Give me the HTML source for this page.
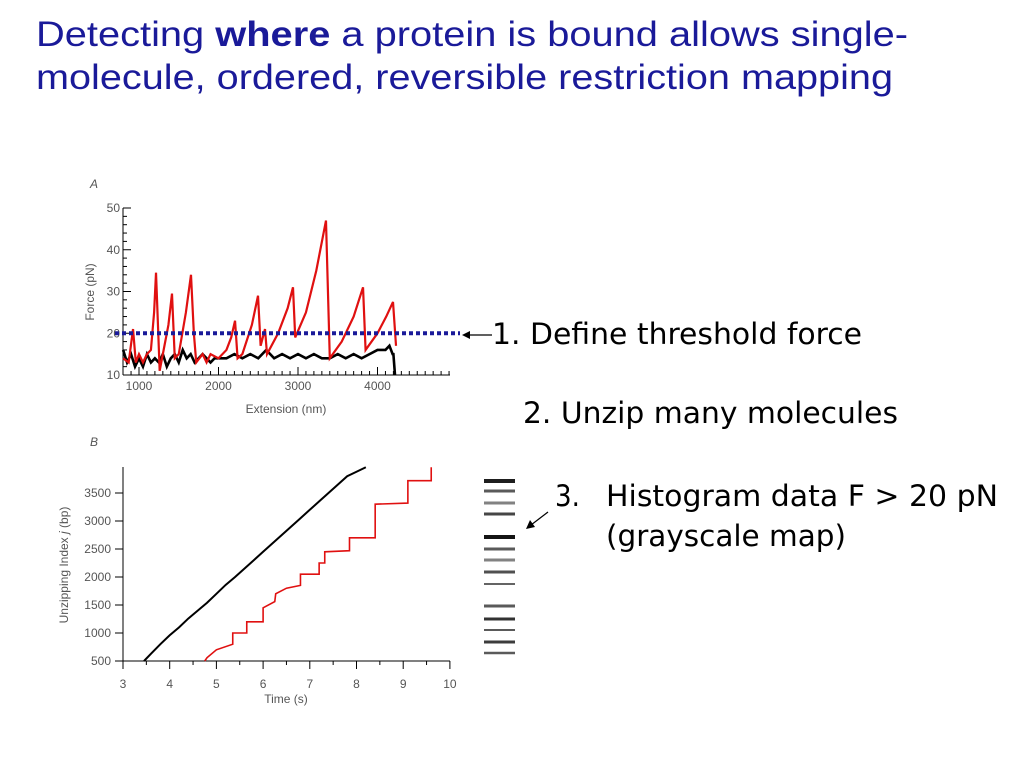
<!DOCTYPE html>
<html><head><meta charset="utf-8"><style>
body{margin:0;background:#fff;width:1024px;height:768px;overflow:hidden}
svg{display:block}
.ax{font-family:"Liberation Sans",sans-serif;font-size:12px;fill:#555}
.big{font-family:"Liberation Sans Narrow","DejaVu Sans Condensed","DejaVu Sans",sans-serif;font-size:29px;fill:#000}
</style></head><body>
<svg id="s" width="1024" height="768" xmlns="http://www.w3.org/2000/svg">
<g font-family="Liberation Sans, sans-serif" font-size="35" fill="#1a1a99">
<text x="36" y="46" textLength="872" lengthAdjust="spacingAndGlyphs">Detecting <tspan font-weight="bold">where</tspan> a protein is bound allows single-</text>
<text x="36" y="89" textLength="857" lengthAdjust="spacingAndGlyphs">molecule, ordered, reversible restriction mapping</text>
</g>
<g id="chartA"></g>
<g id="chartB"></g>
<g id="map"></g>
<g>
<line x1="492" y1="335" x2="468" y2="335" stroke="#000" stroke-width="1.2"/>
<polygon points="462,335 470,331 470,339" fill="#000"/>
<text class="big" x="492" y="344" textLength="370" lengthAdjust="spacingAndGlyphs">1. Define threshold force</text>
<text class="big" x="523" y="423" textLength="375" lengthAdjust="spacingAndGlyphs">2. Unzip many molecules</text>
<text class="big" x="555" y="506">3.</text>
<text class="big" x="606" y="506" textLength="392" lengthAdjust="spacingAndGlyphs">Histogram data F &gt; 20 pN</text>
<text class="big" x="606" y="546" textLength="240" lengthAdjust="spacingAndGlyphs">(grayscale map)</text>
<line x1="548" y1="512" x2="531" y2="525" stroke="#000" stroke-width="1.2"/>
<polygon points="526,529 530,520 535,527" fill="#000"/>
</g>
</svg>
<script>
// Chart A data
const aRedX=[800,870,925,960,1000,1050,1100,1150,1190,1214,1260,1300,1370,1415,1450,1500,1590,1654,1690,1720,1800,1850,1900,2000,2100,2160,2208,2240,2300,2420,2497,2530,2585,2610,2750,2870,2937,2965,3100,3230,3352,3400,3550,3700,3818,3850,4000,4110,4195,4233];
const aRedF=[14,13,21,13,15,13,15,16,25,34.5,11,15,22,29.5,14,15,25,34,20,13,15,13,15,14,16,19,23,14,15,22,29,17,21,15,20,26,31,19,25,35,47,14,18,24,31,16,20,24,27.5,17];
const aBlkX=[800,850,900,950,1000,1050,1100,1150,1200,1250,1300,1350,1400,1450,1500,1550,1600,1650,1700,1750,1800,1850,1900,1950,2000,2100,2200,2300,2400,2500,2600,2700,2800,2900,3000,3100,3200,3300,3400,3500,3600,3700,3800,3900,4000,4100,4150,4190,4200,4220];
const aBlkF=[16,13,15,12,14,12,15,13,14,13,15,12,14,15,13,16,14,15,13,14,15,14,13,14,14,14,15,14,15,14,16,14,15,14,15,14,15,14,14,15,14,15,14,15,16,16,17,15,15,10];
const aYTicks=[10,20,30,40,50];
const aXTicks=[1000,2000,3000,4000];
const threshold=20;
// Chart B data
const bBlkT=[3.45,3.6,3.8,4.0,4.2,4.4,4.6,4.8,5.0,5.2,5.4,5.6,5.8,6.0,6.2,6.4,6.6,6.8,7.0,7.2,7.4,7.6,7.8,8.0,8.2];
const bBlkJ=[500,630,800,960,1100,1260,1400,1540,1700,1860,2000,2150,2300,2450,2600,2750,2900,3050,3200,3350,3500,3650,3800,3880,3960];
const bRedT=[4.75,4.8,5.0,5.35,5.35,5.65,5.65,6.0,6.0,6.25,6.27,6.5,6.8,6.8,7.2,7.2,7.32,7.32,7.85,7.85,8.4,8.4,9.1,9.1,9.6,9.6];
const bRedJ=[500,560,700,800,1000,1000,1200,1200,1450,1560,1700,1800,1850,2050,2050,2250,2250,2450,2470,2700,2700,3300,3320,3720,3720,3960];
const bYTicks=[500,1000,1500,2000,2500,3000,3500];
const bXTicks=[3,4,5,6,7,8,9,10];
// Map bands
const bandY=[481,491,503,514,537,549,560,572,584,606,619,630,642,653];
const bandGray=[30,90,130,70,20,90,130,80,100,90,50,90,60,90];
const bandW=[4,3,3,3,4,3,3,3,2,3,3,2,3,2.5];

const NS='http://www.w3.org/2000/svg';
function mk(parent,tag,attrs){const e=document.createElementNS(NS,tag);for(const k in attrs)e.setAttribute(k,attrs[k]);parent.appendChild(e);return e;}

// Chart A
const A=document.getElementById('chartA');
const ax=v=>139+(v-1000)*0.0795, ay=v=>375-(v-10)*4.175;
mk(A,'text',{x:90,y:188,class:'ax','font-style':'italic','font-size':11}).textContent='A';
let yl=mk(A,'line',{x1:123,y1:ay(50),x2:123,y2:375,stroke:'#000'});

let xl=mk(A,'line',{x1:123,y1:375,x2:450,y2:375,stroke:'#000'});

for(let v=10;v<=50;v+=2){mk(A,'line',{x1:123,y1:ay(v),x2:v%10?127:131,y2:ay(v),stroke:'#000'});}
for(let v=900;v<=4900;v+=100){mk(A,'line',{x1:ax(v),y1:375,x2:ax(v),y2:v%1000?371:367,stroke:'#000'});}
aYTicks.forEach(v=>{const t=mk(A,'text',{x:120,y:ay(v)+4,class:'ax','text-anchor':'end'});t.textContent=v;});
aXTicks.forEach(v=>{const t=mk(A,'text',{x:ax(v),y:390,class:'ax','text-anchor':'middle'});t.textContent=v;});
let t1=mk(A,'text',{x:286,y:413,class:'ax','text-anchor':'middle'});t1.textContent='Extension (nm)';

let t2=mk(A,'text',{x:94,y:292,class:'ax','text-anchor':'middle',transform:'rotate(-90 94 292)'});t2.textContent='Force (pN)';

let pb=mk(A,'polyline',{points:aBlkX.map((x,i)=>ax(x)+','+ay(aBlkF[i])).join(' '),fill:'none',stroke:'#000','stroke-width':2.6});

let pr=mk(A,'polyline',{points:aRedX.map((x,i)=>ax(x)+','+ay(aRedF[i])).join(' '),fill:'none',stroke:'#e01010','stroke-width':2.2});

let th=mk(A,'line',{x1:115,y1:ay(threshold),x2:460,y2:ay(threshold),stroke:'#1a1a99','stroke-width':4,'stroke-dasharray':'4 3'});


// Chart B
const B=document.getElementById('chartB');
const bx=v=>123+(v-3)*46.7, by=v=>661-(v-500)*0.056;
mk(B,'text',{x:90,y:446,class:'ax','font-style':'italic','font-size':11}).textContent='B';
let byl=mk(B,'line',{x1:123,y1:467,x2:123,y2:661,stroke:'#000'});

let bxl=mk(B,'line',{x1:115,y1:661,x2:450,y2:661,stroke:'#000'});

bYTicks.forEach(v=>{mk(B,'line',{x1:115,y1:by(v),x2:123,y2:by(v),stroke:'#000'});const t=mk(B,'text',{x:111,y:by(v)+4,class:'ax','text-anchor':'end'});t.textContent=v;});
for(let v=3;v<=10;v+=0.5){mk(B,'line',{x1:bx(v),y1:661,x2:bx(v),y2:v%1?665:669,stroke:'#000'});}
bXTicks.forEach(v=>{const t=mk(B,'text',{x:bx(v),y:688,class:'ax','text-anchor':'middle'});t.textContent=v;});
let bt1=mk(B,'text',{x:286,y:703,class:'ax','text-anchor':'middle'});bt1.textContent='Time (s)';

let bt2=mk(B,'text',{x:68,y:565,class:'ax','text-anchor':'middle',transform:'rotate(-90 68 565)'});bt2.innerHTML='Unzipping Index <tspan font-style="italic">j</tspan> (bp)';

let bb=mk(B,'polyline',{points:bBlkT.map((x,i)=>bx(x)+','+by(bBlkJ[i])).join(' '),fill:'none',stroke:'#000','stroke-width':2});

let br=mk(B,'polyline',{points:bRedT.map((x,i)=>bx(x)+','+by(bRedJ[i])).join(' '),fill:'none',stroke:'#e01010','stroke-width':1.6});


// Map
const M=document.getElementById('map');
bandY.forEach((y,i)=>{const g=bandGray[i];const l=mk(M,'line',{x1:484,y1:y,x2:515,y2:y,stroke:`rgb(${g},${g},${g})`,'stroke-width':bandW[i]});

});
</script>
</body></html>
